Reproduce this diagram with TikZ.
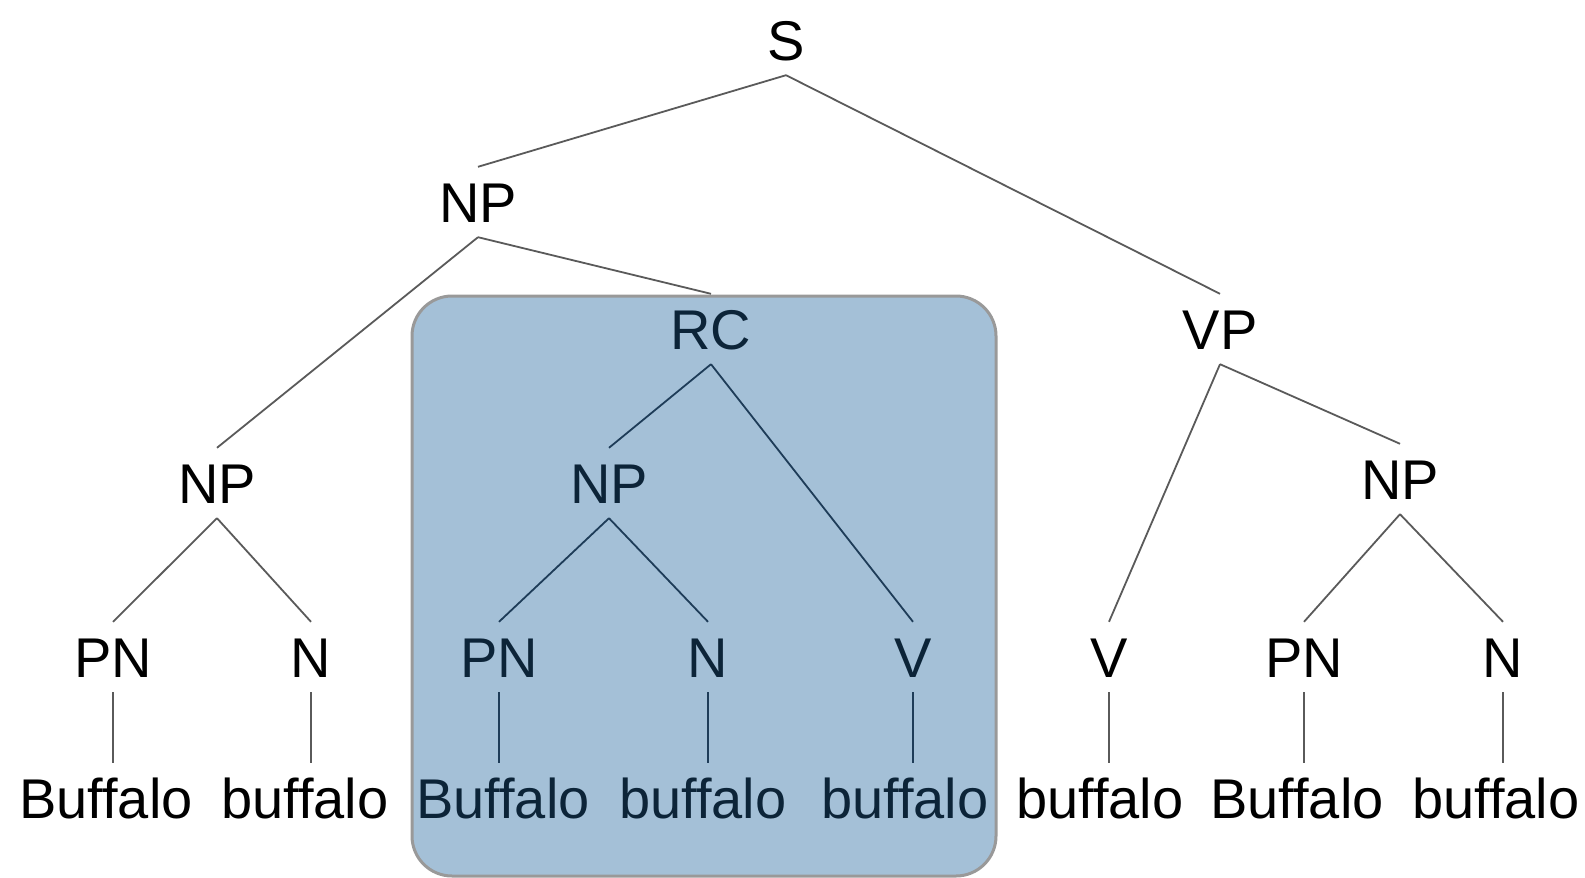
\documentclass[tikz,border=0pt]{standalone}
\usepackage{fontspec}
\setmainfont{Liberation Sans}
\definecolor{boxblue}{HTML}{A4C0D7}
\definecolor{boxgray}{HTML}{999999}
\definecolor{edgegray}{HTML}{5A5A5A}
\definecolor{navytext}{HTML}{0C2438}
\definecolor{navyline}{HTML}{1E3C58}
\begin{document}
\begin{tikzpicture}[x=1pt,y=-1pt,
  lbl/.style={font=\fontsize{56}{60}\selectfont, text height=40pt, text depth=0pt, inner xsep=0pt, inner ysep=15pt, text=black},
  inlbl/.style={lbl, text=navytext},
  branch/.style={draw=edgegray, line width=1.8pt},
  inbranch/.style={draw=navyline, line width=1.8pt},
  rcbox/.style={fill=boxblue, draw=boxgray, line width=3pt, rounded corners=40pt}]
\useasboundingbox (0,0) rectangle (1585,878);
\path[rcbox] (412,296) rectangle (996,876);
% labels
\node[lbl] (s) at (786,40) {S};
\node[lbl] (np1) at (478,202) {NP};
\node[inlbl] (rc) at (711,329) {RC};
\node[lbl] (vp) at (1220,329) {VP};
\node[lbl] (np2) at (217,483) {NP};
\node[inlbl] (np3) at (609,483) {NP};
\node[lbl] (np4) at (1400,479) {NP};
\node[lbl] (pn1) at (113,657) {PN};
\node[lbl] (n1) at (311,657) {N};
\node[inlbl] (pn2) at (499,657) {PN};
\node[inlbl] (n2) at (708,657) {N};
\node[inlbl] (v1) at (913,657) {V};
\node[lbl] (v2) at (1109,657) {V};
\node[lbl] (pn3) at (1304,657) {PN};
\node[lbl] (n3) at (1503,657) {N};
\node[lbl] (w1) at (106,798) {Buffalo};
\node[lbl] (w2) at (305,798) {buffalo};
\node[inlbl] (w3) at (503,798) {Buffalo};
\node[inlbl] (w4) at (703,798) {buffalo};
\node[inlbl] (w5) at (905,798) {buffalo};
\node[lbl] (w6) at (1100,798) {buffalo};
\node[lbl] (w7) at (1297,798) {Buffalo};
\node[lbl] (w8) at (1496,798) {buffalo};
% branches
\draw[branch] (s.south) -- (np1.north);
\draw[branch] (s.south) -- (vp.north);
\draw[branch] (np1.south) -- (rc.north);
\draw[branch] (np1.south) -- (np2.north);
\draw[inbranch] (rc.south) -- (np3.north);
\draw[inbranch] (rc.south) -- (v1.north);
\draw[branch] (vp.south) -- (v2.north);
\draw[branch] (vp.south) -- (np4.north);
\draw[branch] (np2.south) -- (pn1.north);
\draw[branch] (np2.south) -- (n1.north);
\draw[inbranch] (np3.south) -- (pn2.north);
\draw[inbranch] (np3.south) -- (n2.north);
\draw[branch] (np4.south) -- (pn3.north);
\draw[branch] (np4.south) -- (n3.north);
\draw[branch] (pn1.south) -- (pn1.south |- w1.north);
\draw[branch] (n1.south) -- (n1.south |- w2.north);
\draw[inbranch] (pn2.south) -- (pn2.south |- w3.north);
\draw[inbranch] (n2.south) -- (n2.south |- w4.north);
\draw[inbranch] (v1.south) -- (v1.south |- w5.north);
\draw[branch] (v2.south) -- (v2.south |- w6.north);
\draw[branch] (pn3.south) -- (pn3.south |- w7.north);
\draw[branch] (n3.south) -- (n3.south |- w8.north);
\end{tikzpicture}
\end{document}
